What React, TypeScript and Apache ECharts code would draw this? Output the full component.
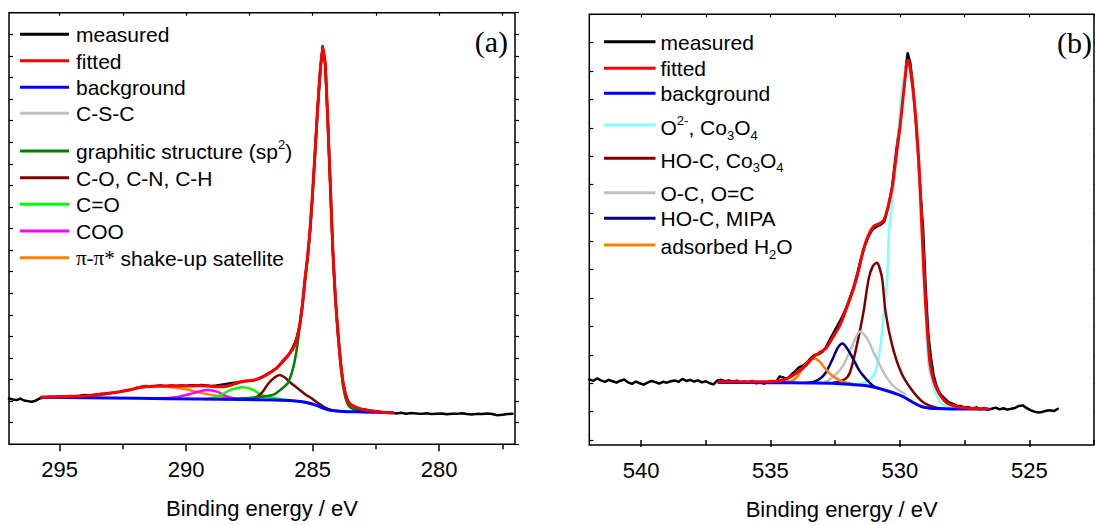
import React, { useEffect, useRef } from "react";
import * as echarts from "echarts";

const FONT = "'Liberation Sans', Arial, Helvetica, sans-serif";
const SERIF = "'Liberation Serif', 'Times New Roman', serif";

// ---------- axis ticks ----------
const xLabelsA = [280, 285, 290, 295];
const xMinorA = [277.5, 282.5, 287.5, 292.5];
const xAllA = [277.5, 280, 282.5, 285, 287.5, 290, 292.5, 295];
const xLabelsB = [525, 530, 535, 540];
const xMinorB = [522.5, 527.5, 532.5, 537.5];
const xAllB = [522.5, 525, 527.5, 530, 532.5, 535, 537.5, 540];
const yTicksB = [0, 1, 2, 3, 4, 5, 6, 7, 8, 9, 10, 11, 12, 13, 14, 15];

// ---------- panel (a): C 1s ----------
const measuredA: number[][] = [
  [297.0, 2.12], [296.85, 2.08], [296.7, 2.05], [296.55, 2.12], [296.4, 2.03], [296.25, 2.0], [296.1, 1.97],
  [295.95, 2.02], [295.8, 2.12], [295.6, 2.17], [295.4, 2.2], [295.2, 2.19], [295.0, 2.22], [294.8, 2.2],
  [294.6, 2.24], [294.4, 2.23], [294.2, 2.25], [294.0, 2.28], [293.8, 2.26], [293.6, 2.3], [293.4, 2.33],
  [293.2, 2.35], [293.0, 2.38], [292.8, 2.4], [292.6, 2.44], [292.4, 2.5], [292.2, 2.53], [292.0, 2.58],
  [291.8, 2.66], [291.6, 2.7], [291.4, 2.68], [291.2, 2.7], [291.0, 2.72], [290.8, 2.69], [290.6, 2.72],
  [290.4, 2.7], [290.2, 2.73], [290.0, 2.71], [289.8, 2.74], [289.6, 2.72], [289.4, 2.75], [289.2, 2.73],
  [289.0, 2.7], [288.8, 2.72], [288.6, 2.76], [288.4, 2.8], [288.2, 2.84], [288.0, 2.86], [287.8, 2.91],
  [287.6, 2.93], [287.4, 2.95], [287.2, 3.0], [287.0, 3.12], [286.8, 3.25], [286.6, 3.4], [286.4, 3.55],
  [286.2, 3.8], [286.0, 4.05], [285.9, 4.25], [285.8, 4.45], [285.7, 4.7], [285.6, 5.05], [285.5, 5.6],
  [285.4, 6.5], [285.3, 7.7], [285.2, 8.6], [285.1, 9.9], [285.0, 11.6], [284.9, 13.6], [284.8, 15.6],
  [284.7, 17.3], [284.6, 18.45], [284.5, 17.6], [284.4, 15.0], [284.3, 12.0], [284.2, 9.0], [284.1, 6.8],
  [284.0, 5.2], [283.9, 3.9], [283.8, 2.9], [283.7, 2.35], [283.6, 2.0], [283.5, 1.85], [283.3, 1.72],
  [283.1, 1.64], [282.9, 1.6], [282.7, 1.56], [282.5, 1.53], [282.3, 1.5], [282.1, 1.48], [281.9, 1.47],
  [281.7, 1.43], [281.5, 1.46], [281.3, 1.42], [281.1, 1.45], [280.9, 1.43], [280.7, 1.41], [280.5, 1.44],
  [280.3, 1.4], [280.1, 1.42], [279.9, 1.43], [279.7, 1.39], [279.5, 1.42], [279.3, 1.41], [279.1, 1.44],
  [278.9, 1.4], [278.7, 1.38], [278.5, 1.41], [278.3, 1.4], [278.1, 1.43], [277.9, 1.4], [277.7, 1.35],
  [277.5, 1.37], [277.3, 1.4], [277.1, 1.41],
];
const fittedA: number[][] = [
  [295.72, 2.18], [295.0, 2.2], [294.0, 2.24], [293.5, 2.3], [293.0, 2.37], [292.6, 2.44], [292.2, 2.53],
  [291.9, 2.62], [291.6, 2.67], [291.0, 2.7], [290.5, 2.7], [290.0, 2.7], [289.5, 2.71], [289.2, 2.7],
  [288.8, 2.67], [288.5, 2.67], [288.2, 2.75], [287.8, 2.9], [287.3, 2.98], [287.0, 3.1], [286.7, 3.3],
  [286.4, 3.55], [286.2, 3.83], [286.0, 4.08], [285.8, 4.38], [285.7, 4.6], [285.6, 5.0], [285.5, 5.6],
  [285.4, 6.5], [285.3, 7.65], [285.2, 8.7], [285.1, 10.0], [285.0, 11.7], [284.9, 13.6], [284.8, 15.6],
  [284.7, 17.3], [284.6, 18.4], [284.5, 17.6], [284.4, 15.0], [284.3, 12.0], [284.2, 9.0], [284.1, 6.8],
  [284.0, 5.2], [283.9, 3.85], [283.8, 2.9], [283.7, 2.3], [283.6, 1.98], [283.5, 1.83], [283.3, 1.72],
  [283.1, 1.64], [282.9, 1.59], [282.5, 1.52], [282.2, 1.48], [281.84, 1.45],
];
const backgroundA: number[][] = [
  [295.72, 2.18], [294.0, 2.16], [291.91, 2.13], [289.5, 2.1], [287.83, 2.08], [286.5, 2.05], [285.79, 2.02],
  [285.4, 1.97], [285.11, 1.9], [284.8, 1.78], [284.56, 1.67], [284.3, 1.58], [284.15, 1.56], [283.5, 1.51],
  [283.06, 1.5], [281.84, 1.46],
];
const cscA: number[][] = [[286.0, 2.03], [285.5, 1.98], [285.0, 1.86]];
const graphiticA: number[][] = [
  [288.5, 2.1], [287.8, 2.12], [287.0, 2.2], [286.5, 2.33], [286.0, 2.8], [285.9, 3.05], [285.8, 3.4],
  [285.7, 3.9], [285.6, 4.6], [285.5, 5.5], [285.4, 6.4], [285.3, 7.5], [285.2, 8.6], [285.1, 9.9],
  [285.0, 11.6], [284.9, 13.55], [284.8, 15.55], [284.7, 17.25], [284.6, 18.35], [284.5, 17.55],
  [284.4, 14.95], [284.3, 11.95], [284.2, 8.95], [284.1, 6.75], [284.0, 5.1], [283.9, 3.75], [283.8, 2.75],
  [283.7, 2.15], [283.6, 1.82], [283.5, 1.7], [283.3, 1.6], [283.0, 1.55],
];
const coA: number[][] = [
  [287.8, 2.12], [287.3, 2.16], [287.0, 2.4], [286.74, 2.83], [286.5, 3.1], [286.3, 3.21], [286.1, 3.1],
  [285.92, 2.9], [285.7, 2.7], [285.51, 2.52], [285.3, 2.32], [285.04, 2.13], [284.8, 1.92], [284.56, 1.74],
  [284.3, 1.6], [284.0, 1.54],
];
const cdoA: number[][] = [
  [289.2, 2.1], [288.9, 2.16], [288.64, 2.28], [288.24, 2.52], [287.76, 2.64], [287.35, 2.52], [287.01, 2.28],
  [286.47, 2.13], [286.0, 2.04],
];
const cooA: number[][] = [
  [291.0, 2.12], [290.6, 2.16], [290.28, 2.21], [289.74, 2.36], [289.19, 2.52], [288.78, 2.44], [288.37, 2.21],
  [287.9, 2.1],
];
const satelliteA: number[][] = [
  [295.0, 2.18], [294.5, 2.19], [293.95, 2.21], [293.3, 2.3], [292.6, 2.44], [292.0, 2.58], [291.64, 2.67],
  [291.2, 2.69], [290.82, 2.67], [290.4, 2.62], [290.0, 2.55], [289.33, 2.36], [288.64, 2.21], [288.0, 2.12],
  [287.5, 2.09],
];

// ---------- panel (b): O 1s ----------
const measuredB: number[][] = [
  [542.0, 2.14], [541.85, 2.08], [541.7, 2.17], [541.55, 2.1], [541.4, 2.05], [541.25, 2.12], [541.1, 2.07],
  [540.95, 2.02], [540.8, 2.09], [540.65, 2.13], [540.5, 2.03], [540.35, 1.98], [540.2, 2.06], [540.05, 2.0],
  [539.9, 1.95], [539.75, 2.02], [539.6, 2.08], [539.45, 2.04], [539.3, 1.99], [539.15, 2.05], [539.0, 2.02],
  [538.85, 2.07], [538.7, 2.1], [538.55, 2.05], [538.4, 2.15], [538.25, 2.08], [538.1, 2.12], [537.95, 2.06],
  [537.8, 2.1], [537.65, 2.03], [537.5, 2.07], [537.35, 2.0], [537.2, 1.96], [537.05, 2.1], [536.9, 2.12],
  [536.75, 2.07], [536.6, 2.1], [536.45, 2.05], [536.3, 2.09], [536.15, 2.03], [536.0, 2.06], [535.85, 2.02],
  [535.7, 2.08], [535.55, 2.0], [535.4, 2.04], [535.25, 1.99], [535.1, 2.05], [534.95, 2.08], [534.8, 2.02],
  [534.65, 2.24], [534.5, 2.2], [534.35, 2.15], [534.2, 2.3], [534.05, 2.42], [533.9, 2.56], [533.75, 2.62],
  [533.6, 2.72], [533.45, 2.88], [533.3, 3.0], [533.15, 3.02], [533.0, 3.1], [532.85, 3.28], [532.7, 3.55],
  [532.55, 3.8], [532.4, 4.05], [532.25, 4.3], [532.1, 4.6], [531.95, 4.95], [531.8, 5.35], [531.65, 5.85],
  [531.5, 6.4], [531.35, 6.85], [531.2, 7.2], [531.05, 7.42], [530.9, 7.52], [530.75, 7.58], [530.6, 7.7],
  [530.45, 8.2], [530.3, 8.9], [530.15, 10.1], [530.0, 11.2], [529.85, 12.4], [529.75, 13.3], [529.7, 13.63],
  [529.6, 13.3], [529.5, 12.5], [529.4, 11.4], [529.3, 10.1], [529.2, 8.7], [529.1, 7.4], [529.0, 5.3],
  [528.9, 3.7], [528.8, 2.9], [528.7, 2.3], [528.6, 1.95], [528.5, 1.72], [528.4, 1.58], [528.25, 1.45],
  [528.1, 1.32], [527.95, 1.27], [527.8, 1.21], [527.65, 1.2], [527.5, 1.14], [527.35, 1.16], [527.2, 1.1],
  [527.05, 1.15], [526.9, 1.08], [526.75, 1.12], [526.6, 1.06], [526.45, 1.1], [526.3, 1.14], [526.15, 1.08],
  [526.0, 1.12], [525.85, 1.07], [525.7, 1.1], [525.55, 1.13], [525.4, 1.2], [525.25, 1.22], [525.1, 1.12],
  [524.95, 1.05], [524.8, 1.0], [524.65, 0.97], [524.5, 0.99], [524.35, 1.03], [524.2, 1.05], [524.05, 1.02],
  [523.9, 1.1],
];
const fittedB: number[][] = [
  [537.0, 2.05], [536.0, 2.05], [535.2, 2.05], [534.7, 2.08], [534.4, 2.15], [534.17, 2.26], [533.9, 2.42],
  [533.65, 2.61], [533.45, 2.82], [533.32, 2.95], [533.1, 3.08], [532.86, 3.22], [532.6, 3.6], [532.33, 4.02],
  [532.1, 4.55], [531.8, 5.31], [531.6, 5.95], [531.41, 6.71], [531.2, 7.25], [531.01, 7.53], [530.8, 7.62],
  [530.62, 7.75], [530.45, 8.25], [530.29, 8.94], [530.15, 9.95], [530.0, 11.0], [529.85, 12.3], [529.75, 13.15],
  [529.7, 13.39], [529.62, 13.2], [529.5, 12.4], [529.37, 11.17], [529.27, 9.8], [529.17, 7.88], [529.06, 5.66],
  [528.95, 4.0], [528.84, 2.73], [528.7, 2.1], [528.51, 1.68], [528.3, 1.4], [528.12, 1.27], [527.8, 1.18],
  [527.32, 1.12], [526.6, 1.09],
];
const backgroundB: number[][] = [
  [537.0, 2.03], [535.0, 2.02], [533.5, 2.01], [532.59, 2.0], [531.9, 1.96], [531.27, 1.91], [530.6, 1.76],
  [529.96, 1.56], [529.5, 1.33], [529.17, 1.18], [528.9, 1.13], [528.64, 1.11], [527.5, 1.09], [526.6, 1.09],
];
const oxideB: number[][] = [
  [532.0, 1.97], [531.54, 1.97], [531.14, 2.14], [530.95, 2.38], [530.75, 3.31], [530.62, 4.49], [530.49, 5.66],
  [530.42, 7.3], [530.15, 9.64], [529.96, 11.99], [529.82, 12.9], [529.7, 13.33], [529.58, 12.9], [529.37, 11.17],
  [529.17, 7.88], [529.06, 5.66], [528.9, 2.73], [528.64, 1.68], [528.38, 1.27], [528.0, 1.12], [527.5, 1.1],
];
const hocCoB: number[][] = [
  [532.6, 2.01], [532.13, 2.14], [531.93, 2.38], [531.67, 3.31], [531.41, 4.49], [531.21, 5.66], [531.05, 6.12],
  [530.88, 6.25], [530.78, 6.05], [530.68, 5.66], [530.55, 4.49], [530.29, 3.31], [529.95, 2.38], [529.56, 1.79],
  [529.1, 1.33], [528.64, 1.15], [528.3, 1.11],
];
const ocB: number[][] = [
  [533.2, 2.01], [532.86, 2.05], [532.5, 2.3], [532.2, 2.61], [531.85, 3.3], [531.54, 3.82], [531.25, 3.55],
  [531.01, 3.08], [530.75, 2.6], [530.55, 2.26], [530.3, 1.95], [530.09, 1.79], [529.8, 1.62],
];
const hocMipaB: number[][] = [
  [533.6, 2.02], [533.38, 2.04], [533.1, 2.15], [532.86, 2.38], [532.6, 2.85], [532.4, 3.25], [532.22, 3.4],
  [532.02, 3.2], [531.8, 2.85], [531.6, 2.5], [531.41, 2.26], [531.2, 2.05], [531.01, 1.89], [530.8, 1.82],
];
const waterB: number[][] = [
  [534.6, 2.03], [534.17, 2.08], [533.95, 2.25], [533.78, 2.5], [533.55, 2.75], [533.32, 2.88], [533.12, 2.78],
  [532.92, 2.56], [532.7, 2.33], [532.46, 2.17], [532.2, 2.05], [531.9, 1.99],
];

const C = {
  black: "#000000",
  red: "#ff0000",
  blue: "#0000ff",
  gray: "#c0c0c0",
  green: "#008000",
  brown: "#800000",
  lime: "#00ff00",
  magenta: "#ff00ff",
  orange: "#ff8000",
  cyan: "#80ffff",
  navy: "#000080",
};

function lineSeries(data: number[][], color: string, width: number, xi: number, yi: number, z: number, smooth: number | boolean) {
  return {
    type: "line",
    data,
    xAxisIndex: xi,
    yAxisIndex: yi,
    showSymbol: false,
    symbol: "none",
    smooth,
    z,
    silent: true,
    lineStyle: { color, width, join: "round", cap: "round" },
    itemStyle: { color },
  };
}

const richStyles = {
  sup: { fontSize: 13, fontFamily: FONT, fill: "#000", verticalAlign: "top", lineHeight: 13 },
  sub: { fontSize: 13, fontFamily: FONT, fill: "#000", verticalAlign: "bottom", lineHeight: 8 },
  pi: { fontSize: 21, fontFamily: SERIF, fill: "#000" },
};

function legendItem(x1: number, x2: number, tx: number, y: number, color: string, text: string, ty?: number) {
  return [
    { type: "line", shape: { x1, y1: y, x2, y2: y }, style: { stroke: color, lineWidth: 3 }, z: 100 },
    {
      type: "text",
      x: tx,
      y: ty === undefined ? y + 0.5 : ty,
      z: 100,
      style: {
        text,
        fill: "#000",
        fontSize: 21,
        fontFamily: FONT,
        verticalAlign: "middle",
        align: "left",
        lineHeight: 28,
        rich: richStyles,
      },
    },
  ];
}

function xAxesFor(grid: number, min: number, max: number, labels: number[], minor: number[], all: number[]) {
  const common = {
    gridIndex: grid,
    type: "value",
    min,
    max,
    inverse: true,
    splitLine: { show: false },
    axisLine: { show: false },
  };
  return [
    {
      ...common,
      position: "bottom",
      name: "Binding energy / eV",
      nameLocation: "middle",
      nameGap: 53,
      nameTextStyle: { fontSize: 22, fontFamily: FONT, color: "#000" },
      axisTick: { show: true, inside: false, length: 7, customValues: labels, lineStyle: { color: "#000", width: 1.5 } },
      axisLabel: { show: true, customValues: labels, margin: 14, fontSize: 22, fontFamily: FONT, color: "#000" },
    },
    {
      ...common,
      position: "bottom",
      offset: 0,
      axisTick: { show: true, inside: false, length: 5, customValues: minor, lineStyle: { color: "#000", width: 1.5 } },
      axisLabel: { show: false },
    },
    {
      ...common,
      position: "top",
      axisTick: { show: true, inside: true, length: 3, customValues: all, lineStyle: { color: "#000", width: 1.2 } },
      axisLabel: { show: false },
    },
  ];
}

export default function App() {
  const ref = useRef<HTMLDivElement>(null);

  useEffect(() => {
    if (!ref.current) return;
    const chart = echarts.init(ref.current, undefined, { renderer: "svg" });

    const yA = {
      gridIndex: 0,
      type: "value",
      min: 0,
      max: 20,
      interval: 1,
      splitLine: { show: false },
      axisLine: { show: false },
      axisLabel: { show: false },
    };
    const yB = {
      gridIndex: 1,
      type: "value",
      min: -0.176,
      max: 15,
      splitLine: { show: false },
      axisLine: { show: false },
      axisLabel: { show: false },
    };

    const graphic: any[] = [
      ...legendItem(20, 69, 76, 34.3, C.black, "measured"),
      ...legendItem(20, 69, 76, 60.7, C.red, "fitted"),
      ...legendItem(20, 69, 76, 87.3, C.blue, "background"),
      ...legendItem(20, 69, 76, 113.3, C.gray, "C-S-C"),
      ...legendItem(20, 69, 76, 151, C.green, "graphitic structure (sp{sup|2})"),
      ...legendItem(20, 69, 76, 177.7, C.brown, "C-O, C-N, C-H"),
      ...legendItem(20, 69, 76, 204.3, C.lime, "C=O"),
      ...legendItem(20, 69, 76, 231, C.magenta, "COO"),
      ...legendItem(20, 69, 76, 257.7, C.orange, "{pi|π-π*} shake-up satellite"),
      ...legendItem(604, 655.5, 660.5, 41.7, C.black, "measured"),
      ...legendItem(604, 655.5, 660.5, 68.3, C.red, "fitted"),
      ...legendItem(604, 655.5, 660.5, 93.3, C.blue, "background"),
      ...legendItem(604, 655.5, 660.5, 125, C.cyan, "O{sup|2-}, Co{sub|3}O{sub|4}", 127.5),
      ...legendItem(604, 655.5, 660.5, 158.3, C.brown, "HO-C, Co{sub|3}O{sub|4}", 160),
      ...legendItem(604, 655.5, 660.5, 192.7, C.gray, "O-C, O=C"),
      ...legendItem(604, 655.5, 660.5, 218.3, C.navy, "HO-C, MIPA"),
      ...legendItem(604, 655.5, 660.5, 245, C.orange, "adsorbed H{sub|2}O", 246.5),
      {
        type: "text",
        x: 508,
        y: 41,
        z: 100,
        style: { text: "(a)", fill: "#000", fontSize: 30, fontFamily: SERIF, align: "right", verticalAlign: "middle" },
      },
      {
        type: "text",
        x: 1092,
        y: 42,
        z: 100,
        style: { text: "(b)", fill: "#000", fontSize: 30, fontFamily: SERIF, align: "right", verticalAlign: "middle" },
      },
    ];

    chart.setOption({
      animation: false,
      backgroundColor: "#ffffff",
      grid: [
        { left: 9, top: 12.7, width: 506, height: 431.6, show: true, borderColor: "#000", borderWidth: 1.5, backgroundColor: "transparent" },
        { left: 589.3, top: 14.3, width: 504.7, height: 431.7, show: true, borderColor: "#000", borderWidth: 1.5, backgroundColor: "transparent" },
      ],
      xAxis: [
        ...xAxesFor(0, 277, 297, xLabelsA, xMinorA, xAllA),
        ...xAxesFor(1, 522.5, 542, xLabelsB, xMinorB, xAllB),
      ],
      yAxis: [
        { ...yA, position: "left", axisTick: { show: true, inside: true, length: 4, lineStyle: { color: "#000", width: 1.2 } } },
        { ...yA, position: "right", axisTick: { show: true, inside: false, length: 4, lineStyle: { color: "#000", width: 1.2 } } },
        { ...yB, position: "left", axisTick: { show: true, inside: true, length: 4, customValues: yTicksB, lineStyle: { color: "#000", width: 1.2 } } },
        { ...yB, position: "right", axisTick: { show: true, inside: false, length: 4, customValues: yTicksB, lineStyle: { color: "#000", width: 1.2 } } },
      ],
      series: [
        lineSeries(measuredA, C.black, 2.5, 0, 0, 1, false),
        lineSeries(satelliteA, C.orange, 2.5, 0, 0, 2, 0.3),
        lineSeries(cooA, C.magenta, 2.5, 0, 0, 2, 0.3),
        lineSeries(cdoA, C.lime, 2.5, 0, 0, 2, 0.3),
        lineSeries(coA, C.brown, 2.5, 0, 0, 2, 0.3),
        lineSeries(graphiticA, C.green, 2.5, 0, 0, 2, 0.2),
        lineSeries(cscA, C.gray, 2.5, 0, 0, 2, 0.3),
        lineSeries(backgroundA, C.blue, 3, 0, 0, 3, 0.3),
        lineSeries(fittedA, C.red, 3, 0, 0, 4, 0.2),

        lineSeries(measuredB, C.black, 2.5, 3, 2, 1, false),
        lineSeries(oxideB, C.cyan, 2.5, 3, 2, 2, 0.2),
        lineSeries(hocCoB, C.brown, 2.5, 3, 2, 2, 0.3),
        lineSeries(ocB, C.gray, 2.5, 3, 2, 2, 0.3),
        lineSeries(hocMipaB, C.navy, 2.5, 3, 2, 2, 0.3),
        lineSeries(waterB, C.orange, 2.5, 3, 2, 2, 0.3),
        lineSeries(backgroundB, C.blue, 3, 3, 2, 3, 0.3),
        lineSeries(fittedB, C.red, 3, 3, 2, 4, 0.2),
      ],
      graphic,
    });

    return () => {
      chart.dispose();
    };
  }, []);

  return (
    <div
      ref={ref}
      style={{ position: "fixed", left: 0, top: 0, width: 1095, height: 525, background: "#fff" }}
    />
  );
}
